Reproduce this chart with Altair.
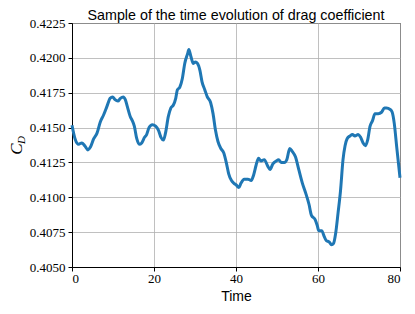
import altair as alt
import pandas as pd

time = [0.0, 0.8, 1.6, 2.4, 3.1, 3.9, 4.5, 5.3, 6.1, 6.9, 7.7, 8.5, 9.3, 9.9, 10.5, 11.2, 11.8,
        12.5, 13.0, 13.5, 14.2, 14.7, 15.2, 15.8, 16.4, 17.0, 17.7, 18.2, 18.8, 19.6, 20.4,
        21.1, 21.7, 22.3, 22.8, 23.5, 24.1, 24.7, 25.3, 25.7, 26.3, 26.9, 27.5, 28.2, 28.5,
        29.0, 29.6, 30.1, 30.6, 31.2, 31.7, 32.4, 33.0, 33.8, 34.4, 35.0, 35.6, 36.3, 37.0,
        37.7, 38.2, 38.9, 39.5, 40.0, 40.7, 41.2, 42.0, 42.9, 43.7, 44.3, 44.9, 45.5, 46.1,
        46.9, 47.8, 48.3, 49.0, 49.8, 50.4, 51.0, 51.8, 52.4, 53.1, 53.7, 54.5, 55.3, 56.2,
        57.0, 57.8, 58.4, 59.3, 59.8, 60.2, 60.9, 61.5, 62.0, 62.7, 63.3, 63.8, 64.3, 64.9,
        65.5, 66.1, 66.6, 67.1, 67.8, 68.4, 69.0, 69.8, 70.4, 71.0, 71.6, 72.1, 72.7, 73.3,
        73.9, 74.7, 75.5, 76.2, 76.7, 77.6, 78.1, 78.6, 79.2, 80.0]
cd = [0.41517, 0.41414, 0.4138, 0.4139, 0.4137, 0.4134, 0.4136, 0.4142, 0.4146, 0.4154, 0.4159,
      0.4165, 0.4171, 0.4172, 0.4170, 0.4169, 0.4171, 0.4172, 0.4170, 0.4165, 0.4158, 0.4155,
      0.4151, 0.4142, 0.4138, 0.4139, 0.4143, 0.4145, 0.4150, 0.4152, 0.4151, 0.4148, 0.4143,
      0.4141, 0.4146, 0.4158, 0.4164, 0.4166, 0.4171, 0.4177, 0.4179, 0.4185, 0.4196, 0.4203,
      0.4206, 0.4201, 0.4196, 0.4197, 0.4196, 0.4191, 0.4183, 0.4177, 0.4172, 0.4168, 0.4160,
      0.4148, 0.4140, 0.4135, 0.4132, 0.4124, 0.4117, 0.4112, 0.4110, 0.4109, 0.4107, 0.4110,
      0.4113, 0.4113, 0.4112, 0.4116, 0.4123, 0.4128, 0.4126, 0.4127, 0.4122, 0.4120, 0.4124,
      0.4126, 0.4127, 0.4125, 0.4125, 0.4127, 0.4135, 0.4133, 0.4129, 0.4120, 0.4110, 0.4103,
      0.4095, 0.4087, 0.4084, 0.4080, 0.4076, 0.4076, 0.4072, 0.4069, 0.4068, 0.4066, 0.4067,
      0.4074, 0.4089, 0.4105, 0.4127, 0.4137, 0.4142, 0.4144, 0.4145, 0.4144, 0.4145, 0.4143,
      0.4139, 0.4137, 0.4141, 0.4151, 0.4155, 0.4160, 0.4160, 0.4161, 0.4164, 0.4164, 0.4163,
      0.4161, 0.4153, 0.4136, 0.4114]

x_ticks = [0, 20, 40, 60, 80]
y_ticks = [0.4050, 0.4075, 0.4100, 0.4125, 0.4150, 0.4175, 0.4200, 0.4225]
title_text = ["Sample of the time evolution of drag coefficient"]

df = pd.DataFrame({"Time": time, "CD": cd})

serif = "Liberation Serif"
sans = "Liberation Sans"

line = alt.Chart(df).mark_line(color="#1f77b4", strokeWidth=3, interpolate="monotone").encode(
    x=alt.X("Time:Q", scale=alt.Scale(domain=[0, 80], nice=False),
            axis=alt.Axis(values=x_ticks, title="Time", format="d", labelPadding=1,
                          titlePadding=4)),
    y=alt.Y("CD:Q", scale=alt.Scale(domain=[0.405, 0.4225], nice=False, zero=False),
            axis=alt.Axis(values=y_ticks, format=".4f", title=None, labelPadding=3)),
)

title = alt.Chart(pd.DataFrame({"t": title_text})).mark_text(
    font=sans, fontSize=14.3, align="center", baseline="alphabetic", color="black"
).encode(x=alt.value(164), y=alt.value(-3), text="t:N")

lab_c = alt.Chart(pd.DataFrame({"t": ["C"]})).mark_text(
    font=serif, fontStyle="italic", fontSize=17, angle=270, align="center", baseline="middle"
).encode(x=alt.value(-55), y=alt.value(126), text="t:N")
lab_d = alt.Chart(pd.DataFrame({"t": ["D"]})).mark_text(
    font=serif, fontStyle="italic", fontSize=11, angle=270, align="center", baseline="middle"
).encode(x=alt.value(-50), y=alt.value(117), text="t:N")

chart = alt.layer(line, title, lab_c, lab_d).properties(
    width=328, height=244,
    autosize="none",
    padding={"left": 64, "top": 15, "right": 7, "bottom": 39},
).configure_view(stroke="black", strokeWidth=1).configure_axis(
    domainColor="black", domainWidth=1, tickColor="black", tickSize=4, tickWidth=1,
    gridColor="#b0b0b0", gridWidth=0.8, labelFont=serif, labelFontSize=13, labelColor="black",
    titleFont=sans, titleFontSize=14, titleFontWeight="normal", titleColor="black",
)

chart.save("out.html", embed_options={"renderer": "svg", "actions": False})
